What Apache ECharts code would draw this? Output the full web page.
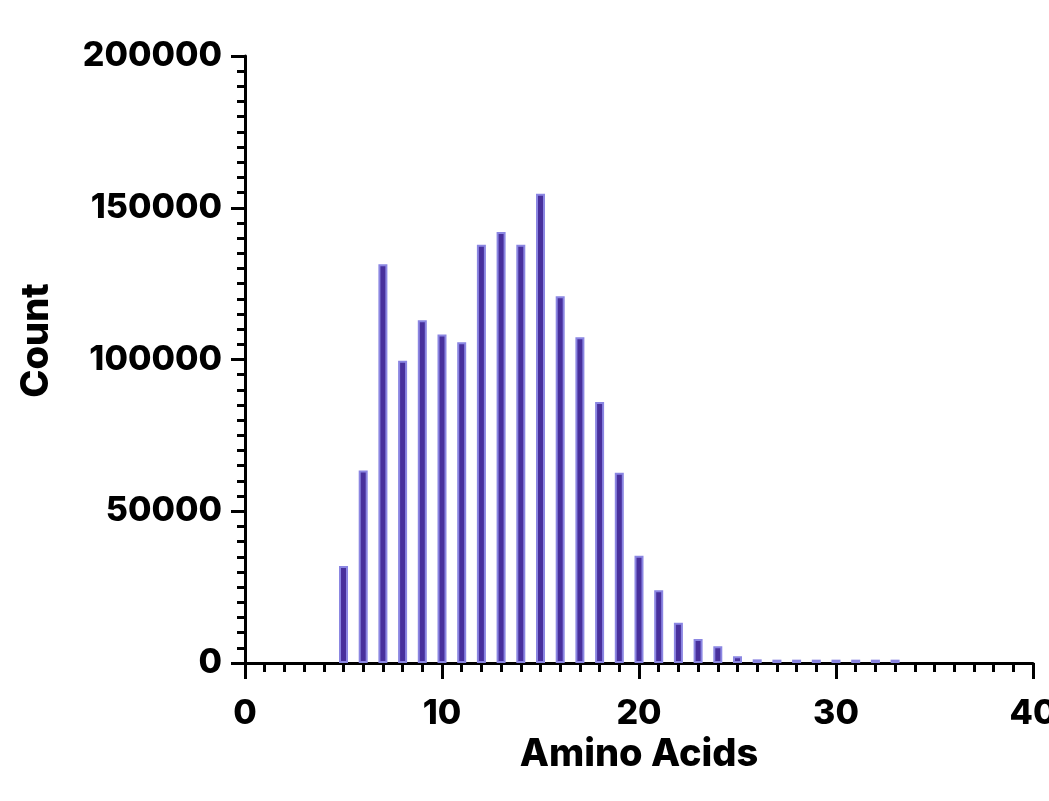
<!DOCTYPE html>
<html>
<head>
<meta charset="utf-8">
<title>Amino Acids histogram</title>
<script src="https://cdn.jsdelivr.net/npm/echarts@6/dist/echarts.min.js"></script>
<style>
    html, body { margin: 0; padding: 0; background: #fff; }
    #chart { width: 1049px; height: 801px; }
</style>
</head>
<body>
<div id="chart"></div>
<script>
// peptide length (amino acids) and how many of each
const lengths = [5, 6, 7, 8, 9, 10, 11, 12, 13, 14, 15, 16, 17, 18, 19,
                 20, 21, 22, 23, 24, 25, 26, 27, 28, 29, 30, 31, 32, 33];
const counts = [32000, 63400, 131400, 99600, 112900, 108200, 105700, 137800, 142000, 137800,
                154600, 120800, 107300, 86000, 62700, 35300, 24000, 13300, 7900, 5500,
                2200, 1200, 1100, 1100, 1100, 1100, 1100, 1100, 1100];

const xTicks = { min: 0, max: 40, step: 10 };
const yTicks = { min: 0, max: 200000, step: 50000 };

const FONT = 'Inter';

const chart = echarts.init(document.getElementById('chart'), null, { renderer: 'canvas' });

const axisLine = { show: true, lineStyle: { color: '#000', width: 3 } };

const option = {
    backgroundColor: '#fff',
    animation: false,
    grid: {
        left: 245,
        right: 16,
        top: 56,
        bottom: 138,
        outerBoundsMode: 'none',
        containLabel: false
    },
    xAxis: {
        type: 'value',
        min: xTicks.min,
        max: xTicks.max,
        interval: xTicks.step,
        name: 'Amino Acids',
        nameLocation: 'middle',
        nameGap: 64,
        nameTextStyle: { color: '#000', fontFamily: FONT, fontWeight: 800, fontSize: 38 },
        axisLine: axisLine,
        axisTick: { show: true, inside: false, length: 16, lineStyle: { color: '#000', width: 3 } },
        minorTick: { show: true, splitNumber: 10, length: 9, lineStyle: { color: '#000', width: 3 } },
        axisLabel: {
            color: '#000', fontFamily: FONT, fontWeight: 800, fontSize: 34, margin: 34,
            formatter: v => String(v)
        },
        splitLine: { show: false }
    },
    yAxis: {
        type: 'value',
        min: yTicks.min,
        max: yTicks.max,
        interval: yTicks.step,
        name: 'Count',
        nameLocation: 'middle',
        nameGap: 189,
        nameRotate: 90,
        nameTextStyle: {
            color: '#000', fontFamily: FONT, fontWeight: 800, fontSize: 38,
            padding: [0, 0, 0, 38]
        },
        axisLine: axisLine,
        axisTick: { show: true, inside: false, length: 14, lineStyle: { color: '#000', width: 3 } },
        minorTick: { show: true, splitNumber: 10, length: 8, lineStyle: { color: '#000', width: 3 } },
        axisLabel: {
            color: '#000', fontFamily: FONT, fontWeight: 800, fontSize: 34, margin: 23,
            formatter: v => String(v)
        },
        splitLine: { show: false }
    },
    series: [
        {
            type: 'bar',
            data: lengths.map((len, i) => [len, counts[i]]),
            barWidth: 9,
            itemStyle: {
                color: '#48309c',
                borderColor: '#8b86e2',
                borderWidth: 2
            }
        }
    ]
};

chart.setOption(option);
</script>
</body>
</html>
